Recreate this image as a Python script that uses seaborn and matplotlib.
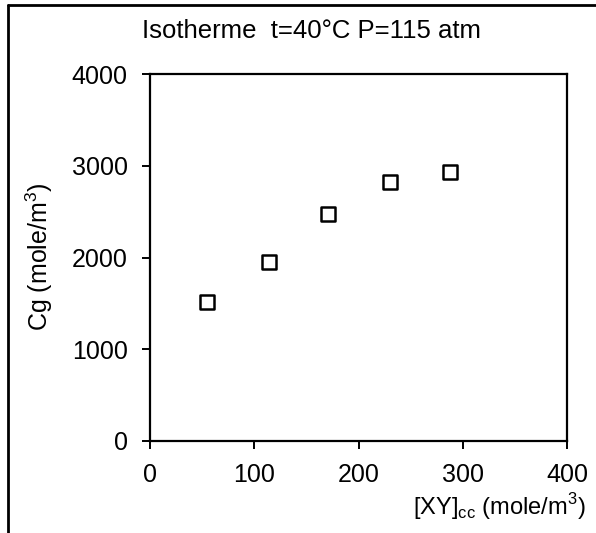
import matplotlib
matplotlib.use("Agg")
import matplotlib.pyplot as plt
import seaborn as sns
import pandas as pd
from matplotlib.lines import Line2D

# valeurs
xy_cc = [55, 114, 171, 230, 288]
cg = [1515, 1950, 2475, 2825, 2935]
x_ticks = [0, 100, 200, 300, 400]
y_ticks = [0, 1000, 2000, 3000, 4000]

titre = "Isotherme  t=40°C P=115 atm"
label_x = r"[XY]$_{\mathregular{cc}}$ (mole/m$^{\mathregular{3}}$)"
label_y = r"Cg (mole/m$^{\mathregular{3}}$)"

df = pd.DataFrame({"xy": xy_cc, "cg": cg})

sns.set_style("white")
plt.rcParams['font.family'] = ['Liberation Sans', 'DejaVu Sans']
plt.rcParams['mathtext.fontset'] = 'custom'
plt.rcParams['mathtext.rm'] = 'Liberation Sans'
plt.rcParams['text.color'] = 'black'

fig = plt.figure(figsize=(5.96, 5.33), dpi=100)
ax = fig.add_axes([150 / 596, (533 - 441) / 533, 417 / 596, 367 / 533])

sns.scatterplot(data=df, x="xy", y="cg", marker="s", s=100,
                facecolor="none", edgecolor="black", linewidth=1.8, ax=ax)

ax.set_xlim(0, 400)
ax.set_ylim(0, 4000)
ax.set_xticks(x_ticks)
ax.set_yticks(y_ticks)
ax.tick_params(direction="out", length=6, width=1.4, labelsize=18,
               colors="black", pad=10, bottom=True, left=True)
for s in ax.spines.values():
    s.set_visible(True)
    s.set_color("black")
    s.set_linewidth(1.6)
ax.set_xlabel("")
ax.set_ylabel("")

fig.text(311 / 596, 1 - 31 / 533, titre, ha="center", va="center",
         fontsize=18.5, color="black")
fig.text(586 / 596, 1 - 507 / 533, label_x, ha="right", va="center",
         fontsize=17, color="black")
fig.text(39 / 596, 1 - 257 / 533, label_y, ha="center", va="center",
         rotation=90, fontsize=18, color="black")

# cadre extérieur (coupé à droite et en bas)
fig.add_artist(Line2D([8 / 596, 1.0], [1 - 5 / 533, 1 - 5 / 533],
                      transform=fig.transFigure, color="black", linewidth=2))
fig.add_artist(Line2D([8 / 596, 8 / 596], [1 - 5 / 533, 0.0],
                      transform=fig.transFigure, color="black", linewidth=2))

fig.savefig("out.png", dpi=100)
